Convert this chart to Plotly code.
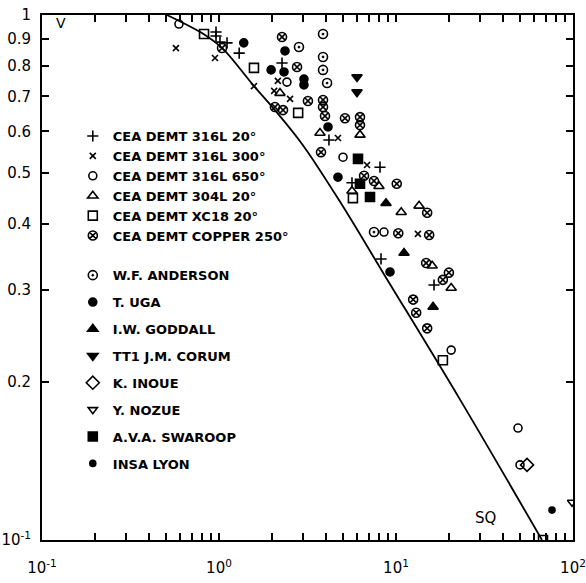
import plotly.graph_objects as go

# ---- data ----
curve_x = [0.508, 0.834, 1.053, 1.556, 2.07, 2.98, 4.95, 8.45, 22.7, 66.8]
curve_y = [1.0, 0.916, 0.862, 0.736, 0.659, 0.565, 0.435, 0.323, 0.1865, 0.1]

s316_20_x = [0.962, 0.962, 1.013, 1.11, 1.30, 2.27, 4.18, 8.12, 5.64, 8.23, 16.4]
s316_20_y = [0.928, 0.912, 0.888, 0.885, 0.846, 0.810, 0.578, 0.513, 0.479, 0.343, 0.306]

s316_300_x = [0.571, 0.949, 1.576, 2.05, 2.15, 2.52, 4.70, 6.86, 13.3]
s316_300_y = [0.865, 0.828, 0.732, 0.717, 0.749, 0.692, 0.583, 0.518, 0.383]

s316_650_x = [0.594, 2.42, 5.02, 8.55, 20.5, 48.9, 50.2]
s316_650_y = [0.961, 0.745, 0.536, 0.386, 0.230, 0.1634, 0.139]

s304_20_x = [2.21, 3.72, 6.26, 5.64, 8.01, 10.7, 13.5, 16.0, 20.5]
s304_20_y = [0.710, 0.596, 0.591, 0.462, 0.472, 0.421, 0.433, 0.333, 0.302]

xc18_x = [0.823, 1.576, 2.80, 5.71, 18.4, 67.7]
xc18_y = [0.920, 0.793, 0.651, 0.448, 0.220, 0.1]

copper_x = [1.04, 2.27, 2.76, 2.07, 2.30, 3.18, 3.87, 3.87, 3.97, 5.15, 6.26, 6.26,
            3.77, 6.60, 7.51, 10.1, 15.0, 10.3, 15.4, 14.8, 19.9, 18.4, 12.5, 13.0, 15.0]
copper_y = [0.865, 0.908, 0.796, 0.668, 0.659, 0.686, 0.689, 0.668, 0.642, 0.636, 0.639, 0.617,
            0.548, 0.494, 0.483, 0.477, 0.420, 0.384, 0.381, 0.337, 0.323, 0.313, 0.287, 0.271, 0.253]

anderson_x = [2.83, 3.87, 3.87, 3.87, 4.08, 7.51]
anderson_y = [0.869, 0.920, 0.832, 0.786, 0.742, 0.386]

uga_x = [1.38, 2.36, 1.97, 2.33, 3.02, 3.02, 4.13, 4.70, 9.25]
uga_y = [0.885, 0.854, 0.786, 0.779, 0.755, 0.736, 0.612, 0.491, 0.324]

goddall_x = [8.78, 11.1, 16.2]
goddall_y = [0.438, 0.352, 0.278]

corum_x = [6.02, 6.02]
corum_y = [0.762, 0.713]

inoue_x = [55.0]
inoue_y = [0.139]

nozue_x = [98.7]
nozue_y = [0.118]

swaroop_x = [6.10, 6.26, 7.13]
swaroop_y = [0.532, 0.477, 0.450]

insa_x = [76.1]
insa_y = [0.114]

x_decades = [0.1, 1, 10, 100]
x_decade_labels = ["10<sup>-1</sup>", "10<sup>0</sup>", "10<sup>1</sup>", "10<sup>2</sup>"]
x_minor_vals = [m * 10 ** k for k in (-1, 0, 1) for m in range(2, 10)]
y_tick_vals = [0.1, 0.2, 0.3, 0.4, 0.5, 0.6, 0.7, 0.8, 0.9, 1]
y_tick_text = ["10<sup>-1</sup>", "0.2", "0.3", "0.4", "0.5", "0.6", "0.7", "0.8", "0.9", "1"]

x_tick_vals = x_decades + x_minor_vals
x_tick_text = x_decade_labels + [""] * len(x_minor_vals)

FONT = "DejaVu Sans, sans-serif"
BLK = "black"

fig = go.Figure()

fig.add_trace(go.Scatter(x=curve_x, y=curve_y, mode="lines",
                         line=dict(color=BLK, width=1.8, shape="spline", smoothing=1.0),
                         showlegend=False, hoverinfo="skip"))

group1 = [
    ("CEA DEMT 316L 20°", s316_20_x, s316_20_y, "cross-thin", 8),
    ("CEA DEMT 316L 300°", s316_300_x, s316_300_y, "x-thin", 6),
    ("CEA DEMT 316L 650°", s316_650_x, s316_650_y, "circle-open", 8),
    ("CEA DEMT 304L 20°", s304_20_x, s304_20_y, "triangle-up-open", 9),
    ("CEA DEMT XC18 20°", xc18_x, xc18_y, "square-open", 9),
    ("CEA DEMT COPPER 250°", copper_x, copper_y, "circle-x-open", 9),
]
group2 = [
    ("W.F. ANDERSON", anderson_x, anderson_y, "circle-open-dot", 9),
    ("T. UGA", uga_x, uga_y, "circle", 8),
    ("I.W. GODDALL", goddall_x, goddall_y, "triangle-up", 9),
    ("TT1 J.M. CORUM", corum_x, corum_y, "triangle-down", 9),
    ("K. INOUE", inoue_x, inoue_y, "diamond-open", 10),
    ("Y. NOZUE", nozue_x, nozue_y, "triangle-down-open", 8),
    ("A.V.A. SWAROOP", swaroop_x, swaroop_y, "square", 9),
    ("INSA LYON", insa_x, insa_y, "circle", 6),
]

for i, (name, xs, ys, sym, sz) in enumerate(group1):
    fig.add_trace(go.Scatter(x=xs, y=ys, mode="markers", name=name,
                             marker=dict(symbol=sym, size=sz, color=BLK, line=dict(color=BLK, width=1.6)),
                             legend="legend", legendgroup="a%d" % i))
for i, (name, xs, ys, sym, sz) in enumerate(group2):
    fig.add_trace(go.Scatter(x=xs, y=ys, mode="markers", name=name,
                             marker=dict(symbol=sym, size=sz, color=BLK, line=dict(color=BLK, width=1.6)),
                             legend="legend2", legendgroup="b%d" % i))

axis_common = dict(type="log", showline=True, linecolor=BLK, linewidth=2, mirror="ticks",
                   ticks="inside", tickcolor=BLK, tickwidth=1.5, showgrid=False, zeroline=False,
                   automargin=False, tickfont=dict(family=FONT, size=15, color=BLK))

fig.update_xaxes(range=[-1, 2], tickvals=x_tick_vals, ticktext=x_tick_text, ticklen=7,
                 ticklabelstandoff=13, **axis_common)
fig.update_yaxes(range=[-1, 0], tickvals=y_tick_vals, ticktext=y_tick_text, ticklen=7,
                 ticklabelstandoff=6, **axis_common)

legend_font = dict(family=FONT, size=13, color=BLK, weight="bold")
fig.update_layout(
    width=586, height=583,
    margin=dict(l=42, r=13, t=15, b=43),
    paper_bgcolor="white", plot_bgcolor="white",
    legend=dict(x=0.058, y=0.798, xanchor="left", yanchor="top", bgcolor="rgba(0,0,0,0)",
                font=legend_font, tracegroupgap=0, itemsizing="trace"),
    legend2=dict(x=0.058, y=0.533, xanchor="left", yanchor="top", bgcolor="rgba(0,0,0,0)",
                 font=legend_font, tracegroupgap=7, itemsizing="trace"),
    annotations=[
        dict(text="V", x=0.035, y=0.985, xref="paper", yref="paper", showarrow=False,
             xanchor="center", yanchor="middle", font=dict(family=FONT, size=14, color=BLK)),
        dict(text="SQ", x=0.835, y=0.042, xref="paper", yref="paper", showarrow=False,
             xanchor="center", yanchor="middle", font=dict(family=FONT, size=15, color=BLK)),
    ],
)

fig.write_html("out.html", config={"displayModeBar": False},
               post_script="document.body.style.margin='0';")
